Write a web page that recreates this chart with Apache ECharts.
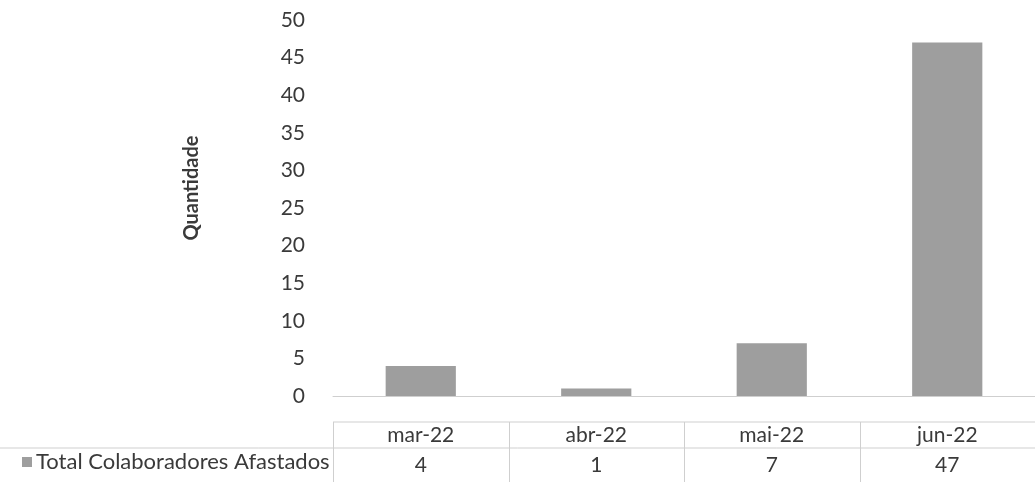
<!DOCTYPE html>
<html>
<head>
<meta charset="utf-8">
<script src="https://cdn.jsdelivr.net/npm/echarts@6/dist/echarts.min.js"></script>
<style>
html,body{margin:0;padding:0;background:#fff;}
#chart{width:1035px;height:482px;}
</style>
</head>
<body>
<div id="chart"></div>
<script>
const categories = ['mar-22', 'abr-22', 'mai-22', 'jun-22'];
const values = [4, 1, 7, 47];
const seriesName = 'Total Colaboradores Afastados';
const yTitle = 'Quantidade';

const FONT = 'Lato, "Open Sans", sans-serif';
const TXT = '#3a3a3a';
const LINE = '#cfcfcf';

const chart = echarts.init(document.getElementById('chart'), null, {renderer: 'canvas'});
chart.setOption({
  animation: false,
  backgroundColor: '#ffffff',
  grid: {left: 333, right: -6, top: 20, bottom: 86, containLabel: false},
  legend: {
    show: true,
    left: 17, top: 446,
    itemWidth: 10, itemHeight: 10, itemGap: 4,
    icon: 'rect',
    textStyle: {color: TXT, fontSize: 22, fontFamily: FONT, padding: [0, 0, 0, -1]},
    data: [seriesName]
  },
  xAxis: [{
    type: 'category',
    data: categories,
    axisLine: {show: true, lineStyle: {color: LINE, width: 1}},
    axisTick: {show: false},
    axisLabel: {color: TXT, fontSize: 21, fontFamily: FONT, margin: 29}
  }, {
    type: 'category',
    data: categories,
    position: 'bottom',
    axisLine: {show: false},
    axisTick: {show: false},
    axisLabel: {color: TXT, fontSize: 21, fontFamily: FONT, margin: 59,
      formatter: function (v, i) { return String(values[i]); }}
  }],
  yAxis: {
    type: 'value',
    min: 0, max: 50, interval: 5,
    name: yTitle,
    nameLocation: 'middle',
    nameGap: 131,
    nameTextStyle: {color: TXT, fontSize: 20, fontWeight: 'bold', fontFamily: FONT, padding: [0, 0, 0, 40]},
    axisLine: {show: false},
    axisTick: {show: false},
    splitLine: {show: false},
    axisLabel: {color: TXT, fontSize: 21, fontFamily: FONT, margin: 28}
  },
  series: [{
    name: seriesName,
    type: 'bar',
    data: values,
    barWidth: '40%',
    itemStyle: {color: '#9e9e9e'}
  }]
});

// Data-table borders, positioned from the category axis
function drawTable() {
  const c0 = chart.convertToPixel({xAxisIndex: 0}, categories[0]);
  const c1 = chart.convertToPixel({xAxisIndex: 0}, categories[1]);
  const band = c1 - c0;
  const left = c0 - band / 2;
  const right = left + band * categories.length;
  const yTop = 422, yMid = 448, yBot = 482;
  const els = [];
  const ls = {stroke: LINE, lineWidth: 1};
  els.push({type: 'line', shape: {x1: left, y1: yTop, x2: right, y2: yTop}, style: ls, silent: true});
  els.push({type: 'line', shape: {x1: 0, y1: yMid, x2: right, y2: yMid}, style: ls, silent: true});
  for (let i = 0; i <= categories.length; i++) {
    const x = Math.round(left + band * i) + 0.5;
    els.push({type: 'line', shape: {x1: x, y1: yTop, x2: x, y2: yBot}, style: ls, silent: true});
  }
  chart.setOption({graphic: {elements: els}});
}
drawTable();
</script>
</body>
</html>
